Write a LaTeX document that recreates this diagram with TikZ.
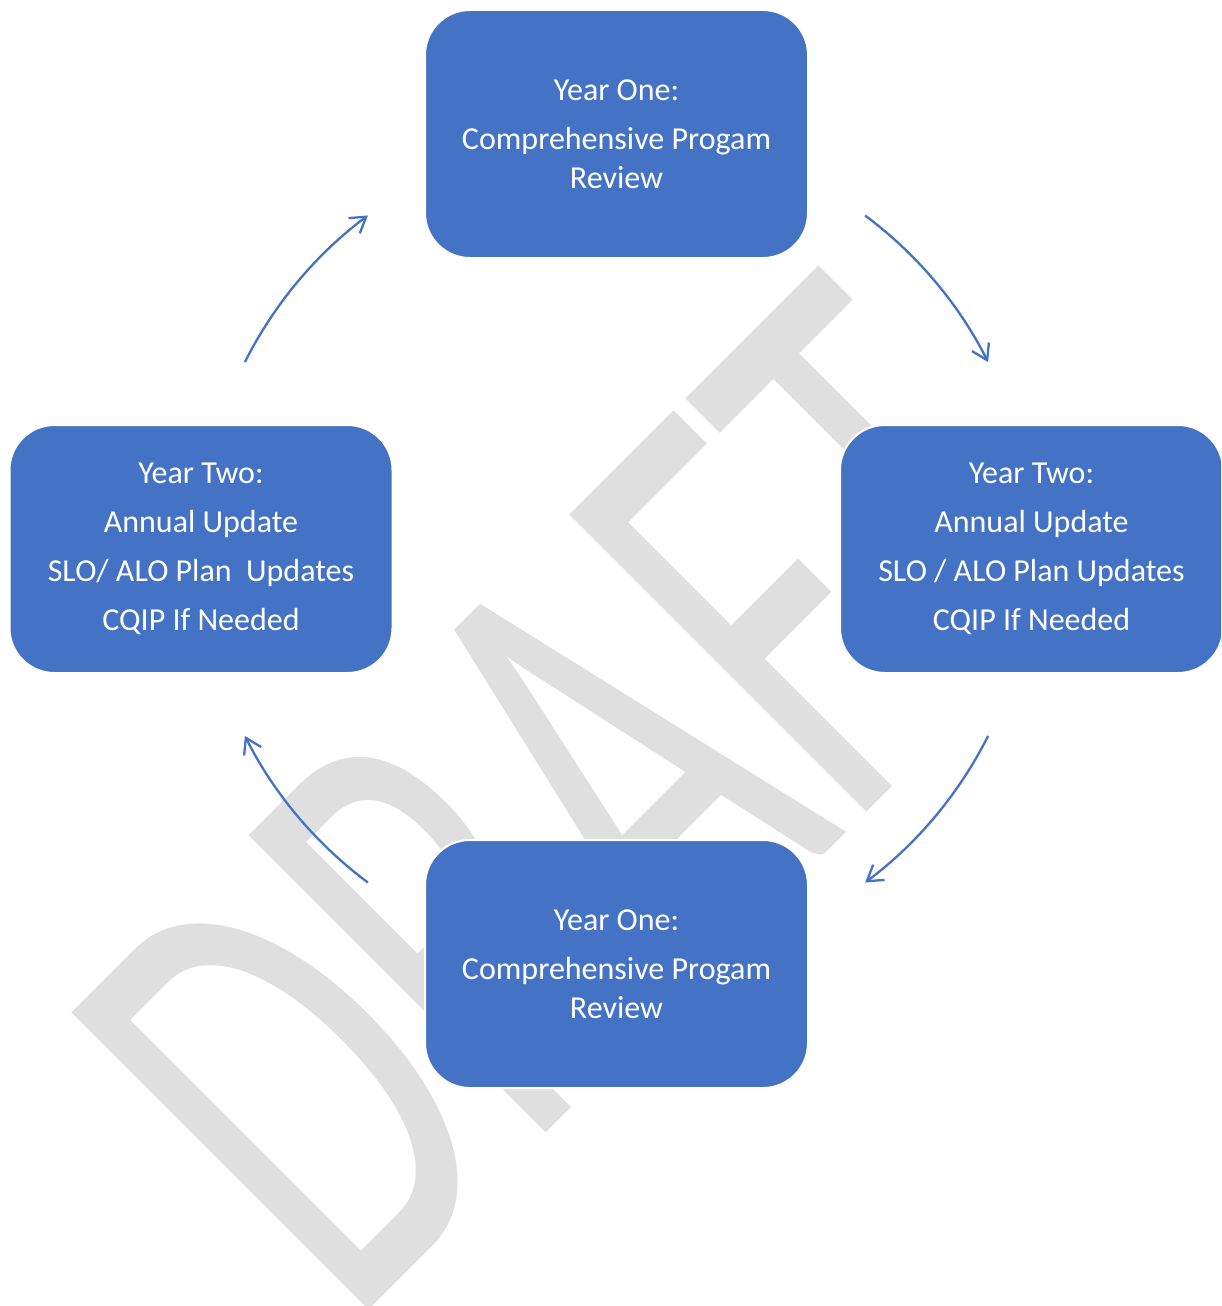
\documentclass[tikz,border=0pt]{standalone}
\usepackage{fontspec}
\setmainfont{Carlito}
\usetikzlibrary{arrows.meta}
\definecolor{boxblue}{HTML}{4472C4}
\definecolor{wmgray}{RGB}{223,223,223}
\begin{document}
\begin{tikzpicture}[x=1pt,y=1pt,
  box/.style={rectangle, rounded corners=45pt, fill=boxblue, draw=white, line width=2pt,
    minimum width=383pt, minimum height=248pt, inner sep=0pt, text=white, align=center,
    font=\fontsize{32}{39}\selectfont},
  flow/.style={draw=boxblue, line width=2.3pt, -{Straight Barb[length=15pt,width=19pt]}},
  watermark/.style={text=wmgray, inner sep=0pt, font=\fontsize{655}{655}\selectfont}]
\useasboundingbox (0,0) rectangle (1221,-1306);
\clip (0,0) rectangle (1221,-1306);
\fill[white] (0,0) rectangle (1221,-1306);
\node[watermark, anchor=base west, rotate=45] (draft) at (349,-1330) {\scalebox{0.62}[1]{DRAFT}};

\node[box] (top) at (616.5,-134) {Year One:\\[10pt]Comprehensive Progam\\Review};
\node[box] (right) at (1031.5,-549) {Year Two:\\[10pt]Annual Update\\[10pt]SLO / ALO Plan Updates\\[10pt]CQIP If Needed};
\node[box] (bottom) at (616.5,-964) {Year One:\\[10pt]Comprehensive Progam\\Review};
\node[box] (left) at (201,-549) {Year Two:\\[10pt]Annual Update\\[10pt]SLO/ ALO Plan\ \ Updates\\[10pt]CQIP If Needed};

\coordinate (c) at (616.5,-549);
\coordinate (a1) at ([shift={(616.5,-549)}]53.3:416);
\coordinate (a2) at ([shift={(616.5,-549)}]-26.7:416);
\coordinate (a3) at ([shift={(616.5,-549)}]-126.7:416);
\coordinate (a4) at ([shift={(616.5,-549)}]153.3:416);
\draw[flow] (a1) arc[start angle=53.3, end angle=26.7, radius=416];
\draw[flow] (a2) arc[start angle=-26.7, end angle=-53.3, radius=416];
\draw[flow] (a3) arc[start angle=-126.7, end angle=-153.3, radius=416];
\draw[flow] (a4) arc[start angle=153.3, end angle=126.7, radius=416];
\end{tikzpicture}
\end{document}
